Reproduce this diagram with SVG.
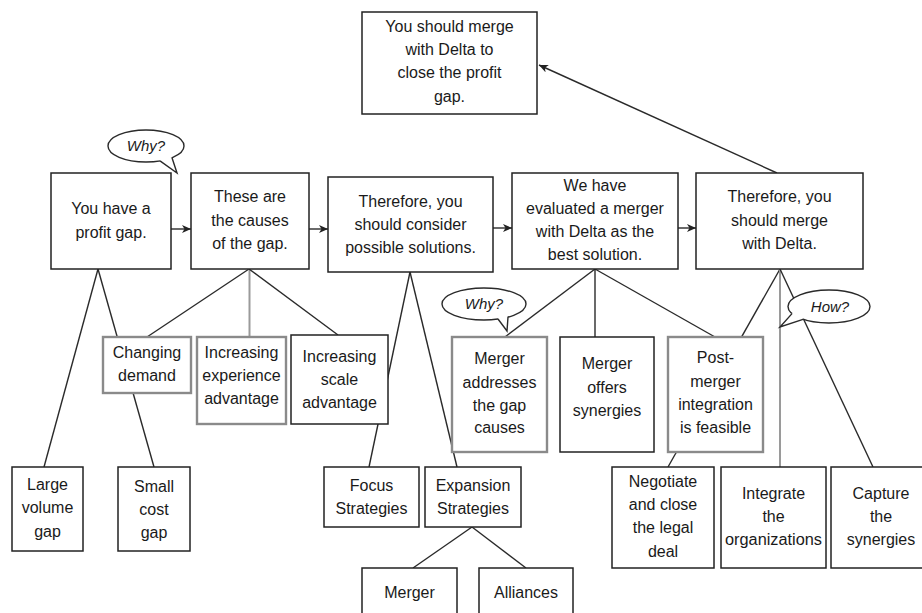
<svg xmlns="http://www.w3.org/2000/svg" width="922" height="613" viewBox="0 0 922 613">
  <style>
    .box { fill: #fff; stroke: #222; stroke-width: 1.5; }
    .gbox { fill: #fff; stroke: #8a8a8a; stroke-width: 2.4; }
    .ln { fill: none; stroke: #2a2a2a; stroke-width: 1.4; }
    .gln { fill: none; stroke: #9a9a9a; stroke-width: 2; }
    .arr { fill: none; stroke: #2a2a2a; stroke-width: 1.4; marker-end: url(#head); }
    text { font-family: "Liberation Sans", Arial, Helvetica, sans-serif; font-size: 16px; fill: #1a1a1a; text-anchor: middle; }
    .ask { font-size: 15px; font-style: italic; }
    .bub { fill: #fff; stroke: #2a2a2a; stroke-width: 1.4; }
    .tailfill { fill: #fff; stroke: none; }
  </style>
  <defs>
    <marker id="head" markerUnits="userSpaceOnUse" markerWidth="10" markerHeight="8" refX="9" refY="4" orient="auto">
      <path d="M0,0 L9,4 L0,8 L2.5,4 Z" fill="#222"/>
    </marker>
  </defs>

  <rect width="922" height="613" fill="#fff"/>

  <!-- connectors -->
  <g id="connectors">
    <!-- main chain -->
    <line class="arr" x1="171" y1="229" x2="191" y2="229"/>
    <line class="arr" x1="309" y1="229" x2="328" y2="229"/>
    <line class="arr" x1="493" y1="228" x2="512" y2="228"/>
    <line class="arr" x1="678" y1="228" x2="696" y2="228"/>
    <line class="arr" x1="777" y1="173" x2="539" y2="65"/>
    <!-- profit gap breakdown -->
    <line class="ln" x1="98" y1="269" x2="44" y2="467"/>
    <line class="ln" x1="98" y1="269" x2="154" y2="467"/>
    <!-- causes -->
    <line class="ln" x1="249" y1="269" x2="147" y2="337"/>
    <line class="gln" x1="249.5" y1="269" x2="249.5" y2="337"/>
    <line class="ln" x1="249" y1="269" x2="338" y2="335"/>
    <!-- solutions -->
    <line class="ln" x1="410" y1="272" x2="369" y2="467"/>
    <line class="ln" x1="410" y1="272" x2="457" y2="467"/>
    <line class="ln" x1="472" y1="527" x2="413" y2="568"/>
    <line class="ln" x1="472" y1="527" x2="526" y2="568"/>
    <!-- evaluation -->
    <line class="ln" x1="595" y1="269" x2="505" y2="337"/>
    <line class="ln" x1="595" y1="269" x2="595" y2="337"/>
    <line class="ln" x1="595" y1="269" x2="715" y2="337"/>
    <!-- action steps -->
    <line class="ln" x1="780" y1="269" x2="668" y2="467"/>
    <line class="gln" x1="780" y1="269" x2="780" y2="467"/>
    <line class="ln" x1="780" y1="269" x2="873" y2="467"/>
  </g>

  <!-- top conclusion -->
  <g id="conclusion">
    <rect class="box" x="362" y="12" width="175" height="102"/>
    <text x="449.5" y="32">You should merge</text>
    <text x="449.5" y="55">with Delta to</text>
    <text x="449.5" y="78">close the profit</text>
    <text x="449.5" y="102">gap.</text>
  </g>

  <!-- main storyline -->
  <g id="profit-gap">
    <rect class="box" x="51" y="173" width="120" height="96"/>
    <text x="111" y="214">You have a</text>
    <text x="111" y="238">profit gap.</text>
  </g>
  <g id="causes">
    <rect class="box" x="191" y="173" width="118" height="96"/>
    <text x="250" y="202">These are</text>
    <text x="250" y="226">the causes</text>
    <text x="250" y="249">of the gap.</text>
  </g>
  <g id="solutions">
    <rect class="box" x="328" y="177" width="165" height="95"/>
    <text x="410.5" y="207">Therefore, you</text>
    <text x="410.5" y="230">should consider</text>
    <text x="410.5" y="253">possible solutions.</text>
  </g>
  <g id="evaluation">
    <rect class="box" x="512" y="173" width="166" height="96"/>
    <text x="595" y="191">We have</text>
    <text x="595" y="214">evaluated a merger</text>
    <text x="595" y="237">with Delta as the</text>
    <text x="595" y="260">best solution.</text>
  </g>
  <g id="recommendation">
    <rect class="box" x="696" y="173" width="167" height="96"/>
    <text x="779.5" y="202">Therefore, you</text>
    <text x="779.5" y="226">should merge</text>
    <text x="779.5" y="249">with Delta.</text>
  </g>

  <!-- causes of the gap -->
  <g id="changing-demand">
    <rect class="gbox" x="103" y="337" width="88" height="56"/>
    <text x="147" y="358">Changing</text>
    <text x="147" y="381">demand</text>
  </g>
  <g id="experience-advantage">
    <rect class="gbox" x="197" y="337" width="89" height="87"/>
    <text x="241.5" y="358">Increasing</text>
    <text x="241.5" y="381">experience</text>
    <text x="241.5" y="404">advantage</text>
  </g>
  <g id="scale-advantage">
    <rect class="box" x="291" y="335" width="97" height="89"/>
    <text x="339.5" y="362">Increasing</text>
    <text x="339.5" y="385">scale</text>
    <text x="339.5" y="408">advantage</text>
  </g>

  <!-- gap components -->
  <g id="volume-gap">
    <rect class="box" x="12" y="467" width="71" height="84"/>
    <text x="47.5" y="490">Large</text>
    <text x="47.5" y="513">volume</text>
    <text x="47.5" y="537">gap</text>
  </g>
  <g id="cost-gap">
    <rect class="box" x="118" y="467" width="72" height="84"/>
    <text x="154" y="492">Small</text>
    <text x="154" y="515">cost</text>
    <text x="154" y="538">gap</text>
  </g>

  <!-- strategies -->
  <g id="focus-strategies">
    <rect class="box" x="324" y="467" width="95" height="60"/>
    <text x="371.5" y="491">Focus</text>
    <text x="371.5" y="514">Strategies</text>
  </g>
  <g id="expansion-strategies">
    <rect class="box" x="425" y="467" width="96" height="60"/>
    <text x="473" y="491">Expansion</text>
    <text x="473" y="514">Strategies</text>
  </g>
  <g id="merger">
    <rect class="box" x="362" y="568" width="95" height="60"/>
    <text x="409.5" y="598">Merger</text>
  </g>
  <g id="alliances">
    <rect class="box" x="479" y="568" width="94" height="60"/>
    <text x="526" y="598">Alliances</text>
  </g>

  <!-- merger evaluation -->
  <g id="addresses-causes">
    <rect class="gbox" x="452" y="337" width="95" height="115"/>
    <text x="499.5" y="364">Merger</text>
    <text x="499.5" y="388">addresses</text>
    <text x="499.5" y="411">the gap</text>
    <text x="499.5" y="433">causes</text>
  </g>
  <g id="offers-synergies">
    <rect class="box" x="560" y="337" width="94" height="115"/>
    <text x="607" y="369">Merger</text>
    <text x="607" y="393">offers</text>
    <text x="607" y="416">synergies</text>
  </g>
  <g id="integration-feasible">
    <rect class="gbox" x="668" y="337" width="95" height="115"/>
    <text x="715.5" y="363">Post-</text>
    <text x="715.5" y="387">merger</text>
    <text x="715.5" y="410">integration</text>
    <text x="715.5" y="433">is feasible</text>
  </g>

  <!-- merger steps -->
  <g id="negotiate">
    <rect class="box" x="612" y="467" width="102" height="101"/>
    <text x="663" y="487">Negotiate</text>
    <text x="663" y="510">and close</text>
    <text x="663" y="533">the legal</text>
    <text x="663" y="557">deal</text>
  </g>
  <g id="integrate">
    <rect class="box" x="721" y="467" width="105" height="101"/>
    <text x="773.5" y="499">Integrate</text>
    <text x="773.5" y="522">the</text>
    <text x="773.5" y="545" textLength="97" lengthAdjust="spacingAndGlyphs">organizations</text>
  </g>
  <g id="capture">
    <rect class="box" x="831" y="467" width="110" height="101"/>
    <text x="881" y="499">Capture</text>
    <text x="881" y="522">the</text>
    <text x="881" y="545">synergies</text>
  </g>

  <!-- question bubbles -->
  <g id="why-gap">
    <ellipse class="bub" cx="146" cy="146" rx="38" ry="16"/>
    <polygon class="tailfill" points="160,160.9 177,173 172,157.7 160,152"/>
    <polyline class="ln" points="160,160.9 177,173 172,157.7"/>
    <text class="ask" x="146" y="151">Why?</text>
  </g>
  <g id="why-merger">
    <ellipse class="bub" cx="484" cy="304" rx="42" ry="16"/>
    <polygon class="tailfill" points="498,319 507,331 508,317 500,310"/>
    <polyline class="ln" points="498,319 507,331 508,317"/>
    <text class="ask" x="484" y="309">Why?</text>
  </g>
  <g id="how-merge">
    <ellipse class="bub" cx="829" cy="306.5" rx="41" ry="16.5"/>
    <polygon class="tailfill" points="792,313.6 780,327 803,319.3 800,308"/>
    <polyline class="ln" points="792,313.6 780,327 803,319.3"/>
    <text class="ask" x="830" y="312">How?</text>
  </g>
</svg>
